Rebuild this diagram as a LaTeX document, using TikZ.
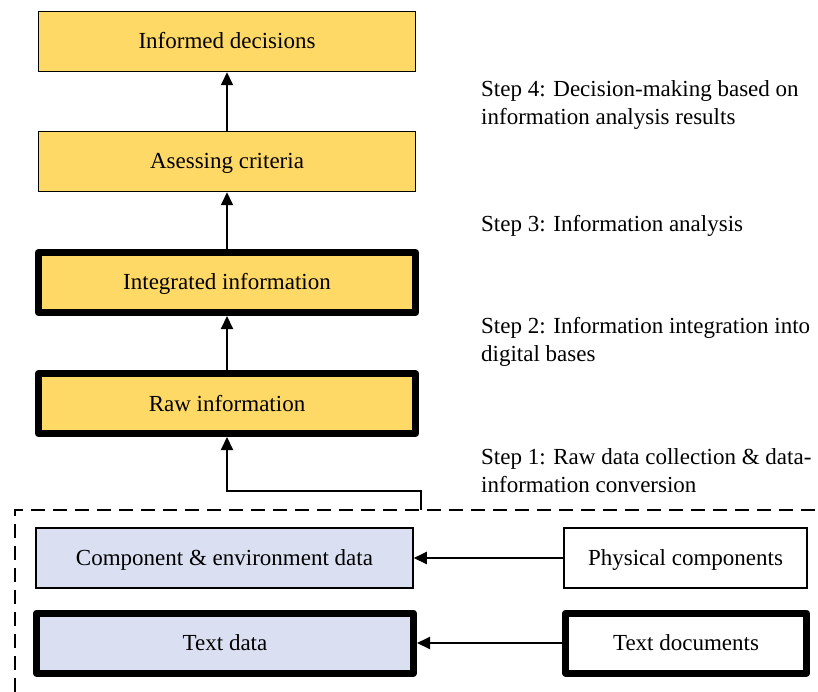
\documentclass[tikz,border=0pt]{standalone}
\usepackage{fontspec}
\setmainfont{Liberation Serif}
\usetikzlibrary{arrows.meta}
\definecolor{gold}{HTML}{FFD966}
\definecolor{paleblue}{HTML}{DAE0F2}
\begin{document}
\begin{tikzpicture}[x=1pt,y=-1pt,
  every node/.style={font=\fontsize{23}{28}\selectfont},
  box/.style={draw, line width=1.5pt, minimum width=377pt, minimum height=60pt,
    inner sep=0pt, text height=17pt, text depth=2pt},
  heavy/.style={draw, line width=7pt, line join=round, minimum width=377pt, minimum height=60pt,
    inner sep=0pt, text height=17pt, text depth=2pt},
  goldbox/.style={fill=gold},
  bluebox/.style={fill=paleblue},
  arr/.style={line width=2pt, -{Triangle[length=13pt,width=12pt]}},
  steplabel/.style={anchor=west, align=left, inner sep=0pt}]
\useasboundingbox (0,0) rectangle (818,692);

% main chain
\node[box, goldbox] (dec)   at (227,41.5)  {Informed decisions};
\node[box, goldbox] (ases)  at (227,161.5) {Asessing criteria};
\node[heavy, goldbox] (integ) at (227,282.5) {Integrated information};
\node[heavy, goldbox] (raw)   at (227,403.5) {Raw information};

\draw[arr] (ases.north) -- (dec.south);
\draw[arr] (integ.north) -- (ases.south);
\draw[arr] (raw.north) -- (integ.south);

% data sources
\node[box, bluebox] (comp) at (224.5,558) {Component \& environment data};
\node[heavy, bluebox] (textd) at (225,643) {Text data};
\node[box, fill=white, minimum width=243pt] (phys) at (685.5,558) {Physical components};
\node[heavy, fill=white, minimum width=241pt] (textdoc) at (686,643) {Text documents};

\draw[arr] (phys.west) -- (comp.east);
\draw[arr] (textdoc.west) -- (textd.east);

% dashed group around the data sources
\draw[line width=1.5pt, dash pattern=on 14pt off 8pt] (15,692) -- (15,510) -- (818,510);
\coordinate (grp) at (421,510);
\draw[arr] (grp) -- ++(0,-19) -| (raw.south);

% step descriptions
\node[steplabel] (s4) at (481,105) {Step 4: Decision-making based on\\information analysis results};
\node[steplabel] (s3) at (481,226) {Step 3: Information analysis};
\node[steplabel] (s2) at (481,342) {Step 2: Information integration into\\digital bases};
\node[steplabel] (s1) at (481,471) {Step 1: Raw data collection \& data-\\information conversion};
\end{tikzpicture}
\end{document}
